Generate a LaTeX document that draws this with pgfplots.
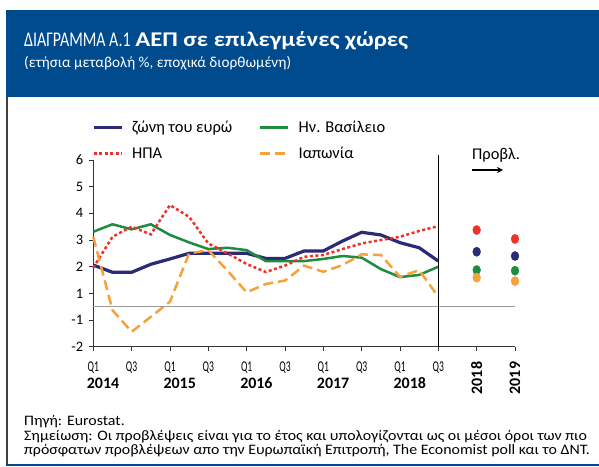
\documentclass[border=0pt]{standalone}
\usepackage{pgfplots}
\pgfplotsset{compat=1.18}
\usepackage{fontspec}
\setmainfont{Carlito}
\newfontfamily\condfont[FakeStretch=0.76]{Carlito}
\newfontfamily\tickfont[FakeStretch=0.64]{Carlito}
\newfontfamily\widefont[FakeStretch=1.1]{Carlito}
\newfontfamily\titlebold[FakeStretch=1.18]{Carlito Bold}
\usetikzlibrary{arrows.meta}
\definecolor{hdrblue}{HTML}{004B8D}
\definecolor{eunavy}{HTML}{2B2A77}
\definecolor{ukgreen}{HTML}{1F8B3F}
\definecolor{usred}{HTML}{EE3129}
\definecolor{jporange}{HTML}{F7A13A}

\pgfplotstableread{
i ea uk us jp
0 2.06 3.31 1.96 3.12
1 1.79 3.59 3.12 0.37
2 1.79 3.40 3.50 -0.44
3 2.09 3.59 3.21 0.12
4 2.29 3.19 4.31 0.69
5 2.50 2.91 3.87 2.50
6 2.50 2.66 2.87 2.62
7 2.50 2.71 2.50 1.85
8 2.50 2.62 2.10 1.04
9 2.31 2.21 1.80 1.35
10 2.31 2.21 2.04 1.48
11 2.59 2.21 2.37 2.04
12 2.59 2.29 2.44 1.81
13 2.96 2.40 2.66 2.06
14 3.29 2.34 2.87 2.46
15 3.19 1.91 3.00 2.44
16 2.90 1.61 3.12 1.62
17 2.71 1.69 3.34 1.87
18 2.21 2.00 3.52 0.87
}\quarterly

\pgfplotstableread{
i ea uk us jp
20 2.56 1.875 3.375 1.59
22 2.40 1.85 3.04 1.46
}\forecast

\begin{document}
\begin{tikzpicture}[x=1bp,y=1bp]
\fill[white] (0,0) rectangle (599,467);
\fill[hdrblue] (6,370) rectangle (599,457);
\draw[line width=1.2bp, black!75] (7,2) -- (7,370);
\draw[line width=1.6bp, hdrblue] (6,2) -- (599,2);
\node[anchor=base west, text=white, inner sep=0pt] at (24,420)
  {\fontsize{21}{24}\selectfont{\condfont ΔΙΑΓΡΑΜΜΑ Α.1} {\titlebold ΑΕΠ σε επιλεγμένες χώρες}};
\node[anchor=base west, text=white, inner sep=0pt] at (24,399)
  {\fontsize{15.3}{17}\selectfont (ετήσια μεταβολή \%, εποχικά διορθωμένη)};

\begin{axis}[
  at={(93.3bp,120.3bp)}, anchor=south west,
  scale only axis, width=421.7bp, height=186.7bp,
  xmin=0, xmax=22, ymin=-1, ymax=6, clip=false,
  axis x line*=bottom, axis y line*=left,
  axis line style={line width=0.8bp, black!80, -},
  tick align=outside, major tick length=4bp,
  tick style={line width=0.8bp, black!80},
  xtick={0,2,...,22}, ytick={-1,0,...,6},
  yticklabels={-2,-1,1,2,3,4,5,6},
  xticklabels={Q1,Q3,Q1,Q3,Q1,Q3,Q1,Q3,Q1,Q3,
    {\rotatebox{90}{\normalfont\fontsize{16}{16}\selectfont\bfseries 2018}},
    {\rotatebox{90}{\normalfont\fontsize{16}{16}\selectfont\bfseries 2019}}},
  xticklabel style={font=\tickfont\fontsize{15}{15}\selectfont, anchor=north, inner sep=0pt, yshift=-11bp},
  yticklabel style={font=\fontsize{14.5}{14.5}\selectfont, anchor=east, inner sep=0pt, xshift=-6bp},
  legend columns=2,
  legend cell align=left,
  legend image code/.code={\draw[#1] (0bp,0bp) -- (28bp,0bp);},
  legend style={at={(-0.003,1.2196)}, anchor=north west, draw=none, fill=none,
    inner sep=0pt, outer sep=0pt, font=\fontsize{16.5}{16.5}\selectfont, row sep=9bp,
    /tikz/every odd column/.append style={column sep=7bp},
    /tikz/every even column/.append style={column sep=0bp}},
]
\addplot[eunavy, line width=3.2bp] table[x=i, y=ea] {\quarterly};
\addlegendentry{\makebox[125bp][l]{ζώνη του ευρώ}}
\addplot[ukgreen, line width=2.5bp] table[x=i, y=uk] {\quarterly};
\addlegendentry{Ην. Βασίλειο}
\addplot[usred, line width=2.5bp, dash pattern=on 3bp off 2.5bp] table[x=i, y=us] {\quarterly};
\addlegendentry{\makebox[125bp][l]{ΗΠΑ}}
\addplot[jporange, line width=2.5bp, dash pattern=on 10bp off 5bp] table[x=i, y=jp] {\quarterly};
\addlegendentry{Ιαπωνία}

\addplot[gray!80, line width=1bp, forget plot] coordinates {(0,0.5) (22,0.5)};
\addplot[black, line width=1bp, forget plot] coordinates {(18,-1) (18,6.19)};

\addplot[only marks, mark=*, mark size=4.6bp, usred, mark options={xscale=0.85}, forget plot] table[x=i, y=us] {\forecast};
\addplot[only marks, mark=*, mark size=4.6bp, eunavy, mark options={xscale=0.85}, forget plot] table[x=i, y=ea] {\forecast};
\addplot[only marks, mark=*, mark size=4.6bp, ukgreen, mark options={xscale=0.85}, forget plot] table[x=i, y=uk] {\forecast};
\addplot[only marks, mark=*, mark size=4.6bp, jporange, mark options={xscale=0.85}, forget plot] table[x=i, y=jp] {\forecast};

\foreach \xx/\yr in {0/2014,4/2015,8/2016,12/2017,16/2018}{
  \edef\tmp{\noexpand\node[anchor=base west, inner sep=0pt, xshift=-6.6bp, yshift=-42.3bp, font=\noexpand\fontsize{16}{16}\noexpand\selectfont\noexpand\bfseries] at (axis cs:\xx,-1) {\yr};}
  \tmp
}
\end{axis}

\node[anchor=base west, inner sep=0pt] at (472,307) {\fontsize{16.5}{16.5}\selectfont Προβλ.};
\draw[-{Stealth[length=6bp,width=6bp]}, line width=1.6bp] (472,297) -- (503,297);

\node[anchor=base west, inner sep=0pt] at (24,41) {\widefont\fontsize{14.5}{15}\selectfont Πηγή: Eurostat.};
\node[anchor=base west, inner sep=0pt] at (24,26) {\widefont\fontsize{14.5}{15}\selectfont Σημείωση: Οι προβλέψεις είναι για το έτος και υπολογίζονται ως οι μέσοι όροι των πιο};
\node[anchor=base west, inner sep=0pt] at (24,12) {\widefont\fontsize{14.5}{15}\selectfont πρόσφατων προβλέψεων απο την Ευρωπαϊκή Επιτροπή, The Economist poll και το ΔΝΤ.};
\pgfresetboundingbox
\useasboundingbox (0,0) rectangle (599,467);
\end{tikzpicture}
\end{document}
